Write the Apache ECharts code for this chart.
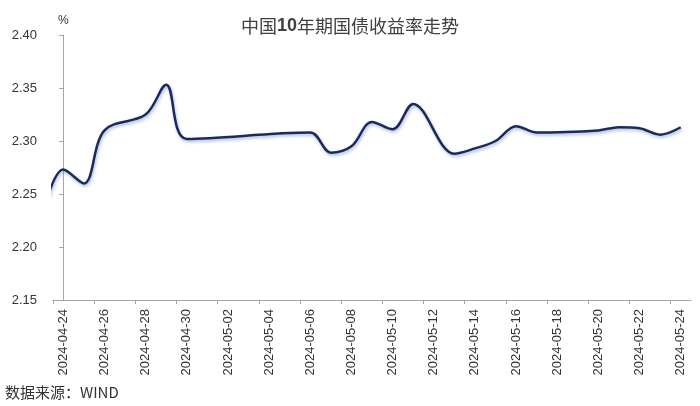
<!DOCTYPE html>
<html>
<head>
<meta charset="utf-8">
<script src="https://cdn.jsdelivr.net/npm/echarts@6/dist/echarts.min.js"></script>
<style>
html,body{margin:0;padding:0;background:#fff;}
#c{width:700px;height:406px;}
</style>
</head>
<body>
<div id="c"></div>
<script>
// Trading dates (04-23 lies just left of the axis start and is clipped)
var dates = ['2024-04-23','2024-04-24','2024-04-25','2024-04-26','2024-04-28','2024-04-29','2024-04-30',
  '2024-05-06','2024-05-07','2024-05-08','2024-05-09','2024-05-10','2024-05-11',
  '2024-05-13','2024-05-14','2024-05-15','2024-05-16','2024-05-17',
  '2024-05-20','2024-05-21','2024-05-22','2024-05-23','2024-05-24'];
var yields = [2.232, 2.273, 2.260, 2.310, 2.325, 2.353, 2.302,
  2.308, 2.289, 2.295, 2.318, 2.311, 2.335,
  2.288, 2.293, 2.300, 2.314, 2.308,
  2.310, 2.313, 2.312, 2.306, 2.313];
var tickLabels = ['2024-04-24','2024-04-26','2024-04-28','2024-04-30','2024-05-02','2024-05-04',
  '2024-05-06','2024-05-08','2024-05-10','2024-05-12','2024-05-14','2024-05-16',
  '2024-05-18','2024-05-20','2024-05-22','2024-05-24'];
var yTicks = [2.15, 2.20, 2.25, 2.30, 2.35, 2.40];

function dayIndex(s) {
  var p = s.split('-');
  var base = Date.UTC(2024, 3, 24);
  return Math.round((Date.UTC(+p[0], +p[1] - 1, +p[2]) - base) / 86400000);
}
var labelPos = tickLabels.map(dayIndex);
var tickPos = labelPos.map(function (d) { return d - 0.5; });
var labelMap = {};
tickLabels.forEach(function (t) { labelMap[dayIndex(t)] = t; });
var seriesData = dates.map(function (d, i) { return [dayIndex(d), yields[i]]; });

var chart = echarts.init(document.getElementById('c'), null, {renderer: 'canvas'});
chart.setOption({
  backgroundColor: '#fff',
  animation: false,
  title: {
    text: '中国{b|10}年期国债收益率走势',
    left: 'center',
    top: 12,
    textStyle: {
      fontFamily: 'Noto Sans CJK SC',
      fontSize: 18,
      fontWeight: 'normal',
      color: '#404040',
      rich: {
        b: {fontFamily: 'Liberation Sans', fontSize: 18, fontWeight: 'bold', color: '#404040'}
      }
    }
  },
  graphic: [{
    type: 'text',
    left: 5,
    top: 385,
    style: {
      text: '数据来源：WIND',
      font: '15px "Noto Sans CJK SC"',
      fill: '#333'
    }
  }],
  grid: {left: 53, right: 9, top: 35, bottom: 106, outerBoundsMode: 'none'},
  xAxis: {
    type: 'value',
    min: tickPos[0],
    max: labelPos[labelPos.length - 1] + 0.5,
    splitLine: {show: false},
    axisLine: {show: true, lineStyle: {color: '#a6a6a6', width: 1}},
    axisTick: {show: true, length: 4, customValues: tickPos, lineStyle: {color: '#a6a6a6'}},
    axisLabel: {
      customValues: labelPos,
      rotate: 90,
      margin: 9,
      fontFamily: 'Liberation Sans',
      fontSize: 13,
      color: '#333',
      formatter: function (v) { return labelMap[Math.round(v)] || ''; }
    }
  },
  yAxis: {
    type: 'value',
    min: yTicks[0],
    max: yTicks[yTicks.length - 1],
    interval: 0.05,
    name: '%',
    nameLocation: 'end',
    nameGap: 8,
    nameTextStyle: {fontFamily: 'Liberation Sans', fontSize: 12, color: '#333', align: 'center'},
    splitLine: {show: false},
    axisLine: {show: true, lineStyle: {color: '#a6a6a6', width: 1}},
    axisTick: {show: true, length: 4, lineStyle: {color: '#a6a6a6'}},
    axisLabel: {
      margin: 16,
      fontFamily: 'Liberation Sans',
      fontSize: 13,
      color: '#333',
      formatter: function (v) { return v.toFixed(2); }
    }
  },
  series: [{
    type: 'line',
    data: seriesData,
    smooth: 0.35,
    symbol: 'none',
    clip: true,
    lineStyle: {
      color: '#1b2a5c',
      width: 2.5,
      shadowColor: 'rgba(90,120,190,0.5)',
      shadowBlur: 3,
      shadowOffsetX: 1,
      shadowOffsetY: 2
    }
  }]
});
</script>
</body>
</html>
